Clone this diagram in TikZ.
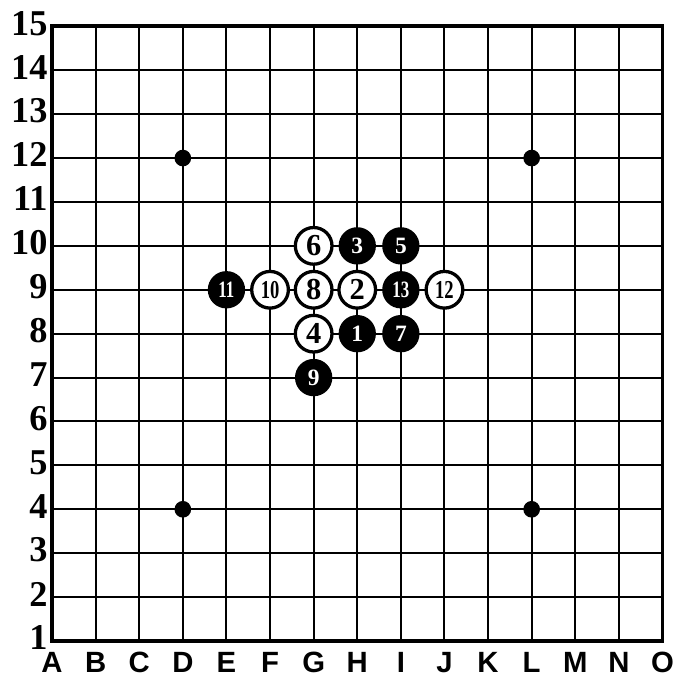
\documentclass[tikz,border=0pt]{standalone}
\usepackage{fontspec}
\setmainfont{Liberation Serif}
\setsansfont{Liberation Sans}
\usetikzlibrary{positioning}

\begin{document}
\begin{tikzpicture}[x=1.308cm, y=1.317cm,
        rejilla/.style={line width=1.7pt},
        borde/.style={line width=3.4pt},
        blanca/.style={circle, draw, line width=2.8pt, fill=white, minimum size=1.1cm, inner sep=0pt, font=\fontsize{26}{26}\selectfont\bfseries},
        negra/.style={circle, fill=black, minimum size=1.12cm, inner sep=0pt, text=white, font=\fontsize{20}{20}\selectfont\bfseries},
        estrella/.style={circle, fill=black, minimum size=0.5cm, inner sep=0pt},
        fila/.style={anchor=east, font=\fontsize{31}{31}\selectfont\bfseries, inner sep=0pt},
        columna/.style={anchor=north, font=\sffamily\bfseries\fontsize{25}{25}\selectfont, inner sep=0pt}]
        \useasboundingbox (-1.193,-0.888) rectangle (14.335,14.60);
        % tablero
        \foreach \i in {1,...,13} {
            \draw[rejilla] (\i,0) -- (\i,14);
            \draw[rejilla] (0,\i) -- (14,\i);
        }
        \draw[borde] (0,0) rectangle (14,14);
        % rotulos
        \foreach \n in {1,...,15}
            \node[fila] (f\n) at (-0.1,\n-0.93) {\n};
        \foreach \l [count=\c from 0] in {A,B,C,D,E,F,G,H,I,J,K,L,M,N,O}
            \node[columna] (c\l) at (\c,-0.25) {\l};
        % puntos
        \node[estrella] (p1) at (3,11) {};
        \node[estrella] (p2) at (11,11) {};
        \node[estrella] (p3) at (3,3) {};
        \node[estrella] (p4) at (11,3) {};
        % piedras
        \node[negra] (s1) at (7,7) {1};
        \node[blanca] (s2) at (7,8) {2};
        \node[negra] (s3) at (7,9) {3};
        \node[blanca] (s4) at (6,7) {4};
        \node[negra] (s5) at (8,9) {5};
        \node[blanca] (s6) at (6,9) {6};
        \node[negra] (s7) at (8,7) {7};
        \node[blanca] (s8) at (6,8) {8};
        \node[negra] (s9) at (6,6) {9};
        \node[blanca, font=\fontsize{22}{22}\selectfont\bfseries] (s10) at (5,8) {\scalebox{0.72}[1]{10}};
        \node[negra] (s11) at (4,8) {\scalebox{0.72}[1]{11}};
        \node[blanca, font=\fontsize{22}{22}\selectfont\bfseries] (s12) at (9,8) {\scalebox{0.72}[1]{12}};
        \node[negra] (s13) at (8,8) {\scalebox{0.72}[1]{13}};
    \end{tikzpicture}
\end{document}
